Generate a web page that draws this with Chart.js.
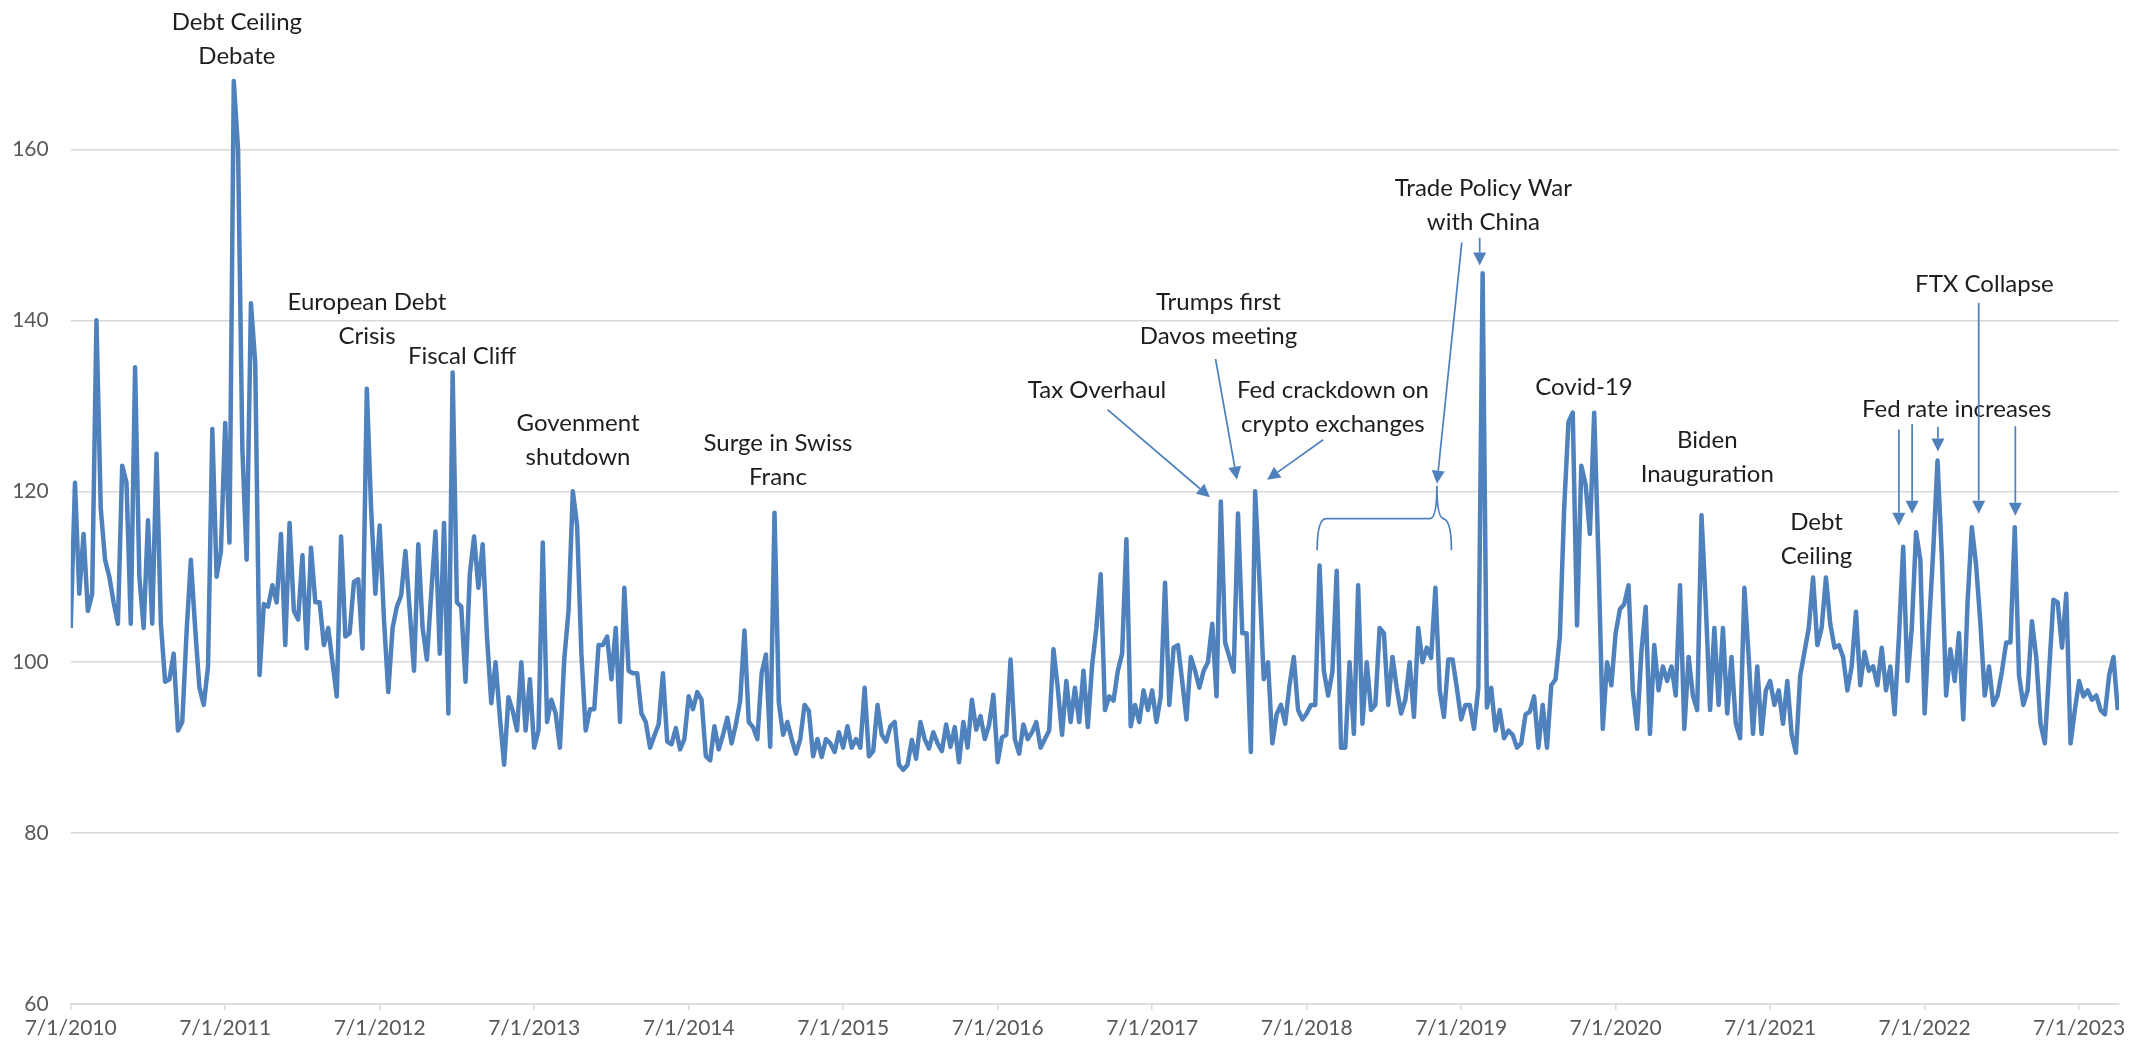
<!DOCTYPE html>
<html>
<head>
<meta charset="utf-8">
<script src="https://cdn.jsdelivr.net/npm/chart.js@4.4.1/dist/chart.umd.min.js"></script>
<style>
  html, body { margin: 0; padding: 0; background: #fff; }
  canvas { display: block; }
</style>
</head>
<body>
<canvas id="volChart" width="2145" height="1046"></canvas>
<script>
// readings start 7/1/2010, 36 per year, each array runs July to June
const startYear = 2010.5;
const perYear = 36;

const vol2010 = [104,121,108,115,106,108,140,118,112,110,107,104.5,123,121,104.5,134.5,110,104,116.6,104.5,124.4,104.6,97.7,98,101,92,93,103.5,112,104,97,95,99.5,127.3,110,113];
const vol2011 = [128,114,168,160,125,112,142,135,98.5,106.8,106.5,109,107,115,102,116.3,106,105,112.5,101.6,113.4,107,107,102,104,100,96,114.7,103,103.4,109.4,109.7,101.6,132,118,108];
const vol2012 = [116,105,96.5,104,106.5,107.8,113,106,99,113.8,104,100.3,108,115.3,101,116.3,94,133.9,107,106.5,97.7,110.3,114.7,108.7,113.8,103,95.2,100,93.6,88,95.9,94.3,92,100,92,98];
const vol2013 = [90,92,114,93,95.6,94,90,100.3,106,120,116,101,92,94.5,94.5,102,102,103,98,104,93,108.7,99,98.7,98.7,94,93,90,91.4,92.7,98.7,90.7,90.4,92.3,89.8,91];
const vol2014 = [96,94.5,96.5,95.6,89,88.5,92.5,89.8,91.5,93.5,90.5,92.7,95.5,103.7,93,92.4,91,98.7,100.9,90.1,117.5,95.3,91.5,93,91,89.3,91,95,94.3,89,91,88.9,91,90.5,89.5,91.8];
const vol2015 = [90,92.5,90,91,90,97,89,89.6,95,91.5,90.7,92.5,93,88,87.4,88,90.9,88.7,93,91,89.9,91.8,90.5,89.6,92.7,90.1,92.4,88.3,93,90,95.6,92.1,93.7,91,92.7,96.2];
const vol2016 = [88.3,91.2,91.5,100.3,91,89.3,92.7,91,91.8,93,90,91,92,101.5,97,91.5,97.8,93,97,93,99,92.4,99.6,104,110.3,94.4,96,95.5,99,101,114.4,92.5,95,93,96.7,94.4];
const vol2017 = [96.7,93,96,109.3,95,101.7,102,97.8,93.3,100.6,99,97,99,100,104.5,96,118.8,102.3,100.6,98.9,117.4,103.4,103.4,89.5,120,109.6,98,100,90.5,93.9,95,92.8,97.3,100.6,94.4,93.3];
const vol2018 = [94,95,95,111.3,99,96.1,98.9,110.7,90,90,100,91.6,109,92.8,100,94.4,95,104,103.4,95,100.6,97,94,95.6,100,93.6,104,100,101.7,100.5,108.7,96.7,93.6,100.3,100.3,97];
const vol2019 = [93.3,95,95,92.2,97,145.5,94.7,97,92,94.4,91.1,92,91.5,90,90.5,93.9,94.2,96,90,95,90,97.3,98,103,118,128.1,129.2,104.3,123,120.8,115,129.2,112,92.2,100,97.3];
const vol2020 = [103.4,106.2,106.8,109,96.7,92.2,101.2,106.5,91.6,102,96.7,99.5,97.8,99.5,96.1,109,92.2,100.6,96.1,94.4,117.2,106.8,94.4,104,95,104,94,100.6,92.8,91.1,108.7,100.6,91.6,99.5,91.6,96.7];
const vol2021 = [97.8,95,96.7,92.8,97.8,91.6,89.4,98.4,101.2,104,109.9,102,104,109.9,104.5,101.7,102,100.6,96.7,99.5,105.9,97.3,101.2,99,99.5,97.3,101.7,96.7,99.5,93.9,102.9,113.5,97.8,104,115.2,112];
const vol2022 = [94,104,113,123.6,112.4,96.1,101.5,97.8,103.4,93.3,107,115.8,111.3,104.5,96.1,99.5,95,96.1,98.9,102.3,102.3,115.8,98.4,95,96.7,104.8,100.6,92.8,90.5,98.9,107.3,107,101.7,108,90.5,94.4];
const vol2023 = [97.8,96,96.7,95.6,96.1,94.4,93.9,98.5,100.6,94.4];

const tickYears = [2010,2011,2012,2013,2014,2015,2016,2017,2018,2019,2020,2021,2022,2023];
const yTicks = [60,80,100,120,140,160];

// event labels, anchored in chart units (year, index value of first line)
const notes = [
  { lines: ['Debt Ceiling', 'Debate'], x: 2011.576, y: 174.9 },
  { lines: ['European Debt', 'Crisis'], x: 2012.418, y: 142.1 },
  { lines: ['Fiscal Cliff'], x: 2013.033, y: 135.8 },
  { lines: ['Govenment', 'shutdown'], x: 2013.784, y: 128.0 },
  { lines: ['Surge in Swiss', 'Franc'], x: 2015.078, y: 125.6 },
  { lines: ['Tax Overhaul'], x: 2017.143, y: 131.8 },
  { lines: ['Trumps first', 'Davos meeting'], x: 2017.929, y: 142.1 },
  { lines: ['Fed crackdown on', 'crypto exchanges'], x: 2018.670, y: 131.8 },
  { lines: ['Trade Policy War', 'with China'], x: 2019.644, y: 155.5 },
  { lines: ['Covid-19'], x: 2020.295, y: 132.2 },
  { lines: ['Biden', 'Inauguration'], x: 2021.093, y: 126.0 },
  { lines: ['Debt', 'Ceiling'], x: 2021.800, y: 116.4 },
  { lines: ['Fed rate increases'], x: 2022.707, y: 129.6 },
  { lines: ['FTX Collapse'], x: 2022.887, y: 144.2 }
];

const arrows = [
  { from: [2017.211, 129.55], to: [2017.874, 119.31] },
  { from: [2017.910, 135.50], to: [2018.049, 121.36] },
  { from: [2018.607, 126.02], to: [2018.244, 121.36] },
  { from: [2019.504, 149.11], to: [2019.343, 120.89] },
  { from: [2019.620, 149.66], to: [2019.620, 146.42] },
  { from: [2022.333, 127.21], to: [2022.333, 115.97] },
  { from: [2022.419, 127.86], to: [2022.419, 117.38] },
  { from: [2022.586, 127.56], to: [2022.586, 124.64] },
  { from: [2023.087, 127.61], to: [2023.087, 117.14] },
  { from: [2022.850, 142.05], to: [2022.850, 117.38] }
];

// curly bracket under the 2018-2019 trade war period
const brace = { left: 2018.568, right: 2019.437, tip: 2019.343, bar: 116.8, ends: 113.1, top: 120.66 };

const values = [].concat(vol2010, vol2011, vol2012, vol2013, vol2014, vol2015, vol2016,
  vol2017, vol2018, vol2019, vol2020, vol2021, vol2022, vol2023);
const points = values.map((v, i) => ({ x: startYear + i / perYear, y: v }));

function drawArrow(ctx, x0, y0, x1, y1) {
  const ang = Math.atan2(y1 - y0, x1 - x0);
  const len = 13, half = 6.5;
  const bx = x1 - len * Math.cos(ang), by = y1 - len * Math.sin(ang);
  ctx.beginPath();
  ctx.moveTo(x0, y0);
  ctx.lineTo(bx, by);
  ctx.stroke();
  ctx.beginPath();
  ctx.moveTo(x1, y1);
  ctx.lineTo(bx + half * Math.sin(ang), by - half * Math.cos(ang));
  ctx.lineTo(bx - half * Math.sin(ang), by + half * Math.cos(ang));
  ctx.closePath();
  ctx.fill();
}

const notesPlugin = {
  id: 'notes',
  afterDatasetsDraw(chart) {
    const { ctx, scales: { x, y } } = chart;
    ctx.save();
    ctx.font = '24px Lato';
    ctx.fillStyle = '#1e1e1e';
    ctx.textAlign = 'center';
    ctx.textBaseline = 'middle';
    notes.forEach(n => {
      const px = x.getPixelForValue(n.x), py = y.getPixelForValue(n.y);
      n.lines.forEach((line, i) => ctx.fillText(line, px, py + i * 34));
    });

    ctx.strokeStyle = '#4f81bd';
    ctx.fillStyle = '#4f81bd';
    ctx.lineWidth = 1.75;
    arrows.forEach(a => {
      drawArrow(ctx, x.getPixelForValue(a.from[0]), y.getPixelForValue(a.from[1]),
        x.getPixelForValue(a.to[0]), y.getPixelForValue(a.to[1]));
    });

    const xl = x.getPixelForValue(brace.left), xr = x.getPixelForValue(brace.right);
    const xt = x.getPixelForValue(brace.tip);
    const yb = y.getPixelForValue(brace.bar), ye = y.getPixelForValue(brace.ends);
    const yt = y.getPixelForValue(brace.top);
    ctx.beginPath();
    ctx.moveTo(xl, ye);
    ctx.quadraticCurveTo(xl, yb, xl + 9, yb);
    ctx.lineTo(xt - 7, yb);
    ctx.quadraticCurveTo(xt, yb, xt, yt);
    ctx.quadraticCurveTo(xt, yb, xt + 7, yb);
    ctx.lineTo(xr - 9, yb);
    ctx.quadraticCurveTo(xr, yb, xr, ye);
    ctx.stroke();
    ctx.restore();
  }
};

Chart.defaults.font.family = 'Lato';

new Chart(document.getElementById('volChart').getContext('2d'), {
  type: 'line',
  data: {
    datasets: [{
      data: points,
      borderColor: '#4f81bd',
      borderWidth: 4.5,
      pointRadius: 0,
      tension: 0,
      borderJoinStyle: 'round'
    }]
  },
  options: {
    responsive: false,
    animation: false,
    devicePixelRatio: 1,
    layout: { padding: { top: 64, right: 26, left: 0, bottom: 0 } },
    plugins: { legend: { display: false }, tooltip: { enabled: false } },
    scales: {
      x: {
        type: 'linear',
        min: startYear,
        max: 2023.758,
        afterBuildTicks: s => { s.ticks = tickYears.map(t => ({ value: t + 0.5 })); },
        afterFit: s => { s.height = 42; },
        ticks: {
          color: '#595959',
          font: { size: 21 },
          padding: 6,
          maxRotation: 0,
          autoSkip: false,
          callback: v => '7/1/' + Math.floor(v)
        },
        grid: { drawOnChartArea: false, drawTicks: true, tickLength: 6, color: '#d9d9d9', lineWidth: 1.5 },
        border: { display: true, color: '#d9d9d9', width: 1.5 }
      },
      y: {
        min: 60,
        max: 170,
        afterBuildTicks: s => { s.ticks = yTicks.map(t => ({ value: t })); },
        afterFit: s => { s.width = 70.7; },
        ticks: { color: '#595959', font: { size: 21 }, padding: 22 },
        grid: { color: '#d9d9d9', lineWidth: 1.5, drawTicks: false },
        border: { display: false }
      }
    }
  },
  plugins: [notesPlugin]
});
</script>
</body>
</html>
